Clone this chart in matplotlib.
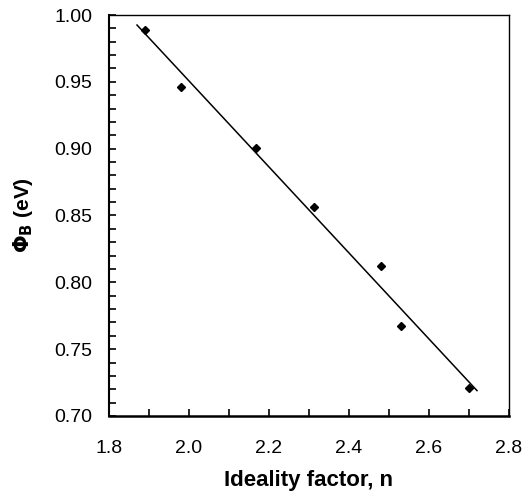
import numpy as np
import matplotlib.pyplot as plt
from matplotlib.ticker import MultipleLocator

plt.rcParams['font.family'] = ['Liberation Sans', 'DejaVu Sans']

# barrier height vs ideality factor
ideality_n = [1.89, 1.98, 2.167, 2.313, 2.48, 2.53, 2.70]
phi_b = [0.989, 0.946, 0.9005, 0.856, 0.812, 0.767, 0.721]

# linear fit line end points
fit_n = [1.87, 2.72]
fit_phi = [0.9925, 0.719]

fig = plt.figure(figsize=(5.24, 4.95), dpi=100)
ax = fig.add_axes([109 / 524, 1 - 416 / 495, 400 / 524, 401 / 495])

ax.plot(fit_n, fit_phi, color='black', lw=1.1)
ax.plot(ideality_n, phi_b, 'D', color='black', markersize=4.5)

ax.set_xlim(1.8, 2.8)
ax.set_ylim(0.70, 1.00)
ax.xaxis.set_major_locator(MultipleLocator(0.2))
ax.xaxis.set_minor_locator(MultipleLocator(0.1))
ax.yaxis.set_major_locator(MultipleLocator(0.05))
ax.yaxis.set_minor_locator(MultipleLocator(0.01))
ax.xaxis.set_major_formatter(plt.FormatStrFormatter('%.1f'))
ax.yaxis.set_major_formatter(plt.FormatStrFormatter('%.2f'))

ax.tick_params(which='both', direction='in', top=False, right=False, labelsize=14, width=1.2)
ax.tick_params(which='both', length=5)
ax.tick_params(axis='y', pad=12)
ax.tick_params(axis='x', pad=17)

ax.spines['left'].set_linewidth(1.5)
ax.spines['bottom'].set_linewidth(1.8)
ax.spines['top'].set_linewidth(1.0)
ax.spines['right'].set_linewidth(1.0)

ax.set_xlabel('Ideality factor, n', fontsize=16, fontweight='bold', labelpad=9.5)
ax.set_ylabel(r'$\mathbf{\Phi_B}$ (eV)', fontsize=15, fontweight='bold', labelpad=14)

fig.savefig('out.png', dpi=100)
